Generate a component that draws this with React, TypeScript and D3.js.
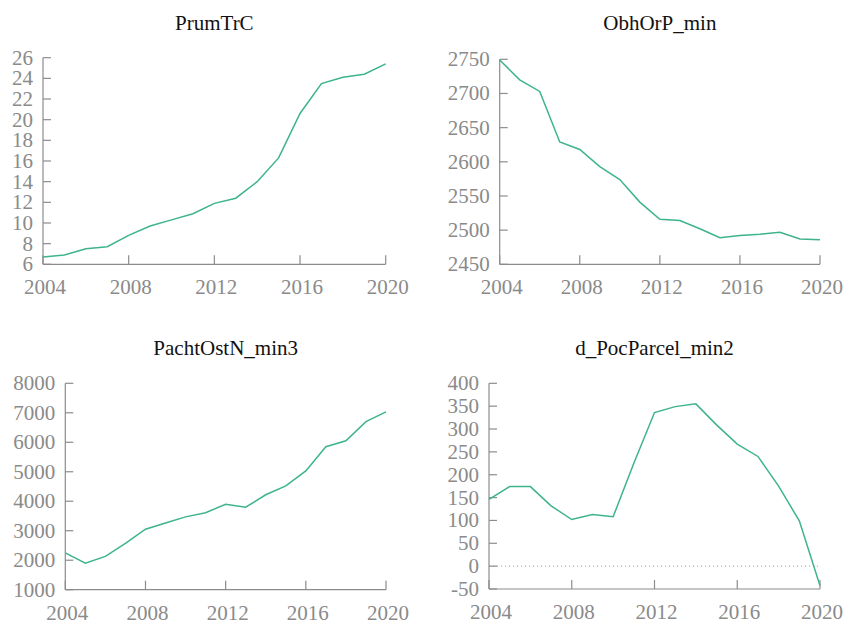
import React from "react";
import * as d3 from "d3";

const years = [2004, 2005, 2006, 2007, 2008, 2009, 2010, 2011, 2012, 2013, 2014, 2015, 2016, 2017, 2018, 2019, 2020];
const xTickYears = [2004, 2008, 2012, 2016, 2020];

const prumTrC = [6.7, 6.9, 7.5, 7.7, 8.8, 9.7, 10.3, 10.9, 11.9, 12.4, 14.0, 16.3, 20.6, 23.5, 24.1, 24.4, 25.4];
const obhOrPMin = [2749, 2720, 2703, 2629, 2618, 2593, 2574, 2541, 2516, 2514, 2502, 2489, 2492, 2494, 2497, 2487, 2486];
const pachtOstNMin3 = [2250, 1900, 2130, 2570, 3050, 3260, 3470, 3610, 3900, 3800, 4220, 4520, 5030, 5850, 6050, 6700, 7030];
const dPocParcelMin2 = [146, 174, 174, 132, 102, 113, 108, 225, 336, 349, 355, 309, 267, 240, 175, 99, -43];

const ticksP1 = [6, 8, 10, 12, 14, 16, 18, 20, 22, 24, 26];
const ticksP2 = [2450, 2500, 2550, 2600, 2650, 2700, 2750];
const ticksP3 = [1000, 2000, 3000, 4000, 5000, 6000, 7000, 8000];
const ticksP4 = [-50, 0, 50, 100, 150, 200, 250, 300, 350, 400];

const titles = ["PrumTrC", "ObhOrP_min", "PachtOstN_min3", "d_PocParcel_min2"];

const LINE = "#3db489";
const AXIS = "#8c8c8c";
const TEXT = "#8a8a8a";
const FONT = "Liberation Serif";

type PanelProps = {
  title: string;
  values: number[];
  ticks: number[];
  x0: number;
  x1: number;
  yTop: number;
  yBot: number;
  titleY: number;
  zeroLine?: boolean;
};

function Panel({ title, values, ticks, x0, x1, yTop, yBot, titleY, zeroLine }: PanelProps) {
  const x = d3.scaleLinear().domain([2004, 2020]).range([x0, x1]);
  const y = d3
    .scaleLinear()
    .domain([ticks[0], ticks[ticks.length - 1]])
    .range([yBot, yTop]);
  const line = d3
    .line<number>()
    .x((_, i) => x(years[i]))
    .y((d) => y(d));
  const tickStyle = { fontFamily: FONT, fontSize: 21, fill: TEXT };
  return (
    <g>
      <text
        x={(x0 + x1) / 2}
        y={titleY}
        textAnchor="middle"
        style={{ fontFamily: FONT, fontSize: 21, fill: "#111" }}
      >
        {title}
      </text>
      {zeroLine && (
        <line
          x1={x0}
          x2={x1 - 2}
          y1={y(0)}
          y2={y(0)}
          stroke="#999"
          strokeWidth={1}
          strokeDasharray="1,3"
        />
      )}
      <line x1={x0} x2={x0} y1={yTop} y2={yBot} stroke={AXIS} strokeWidth={1.2} />
      <line x1={x0} x2={x1} y1={yBot} y2={yBot} stroke={AXIS} strokeWidth={1.2} />
      {ticks.map((t) => (
        <g key={"y" + t}>
          <line x1={x0} x2={x0 + 8} y1={y(t)} y2={y(t)} stroke={AXIS} strokeWidth={1.2} />
          <text x={x0 - 10} y={y(t)} dy="0.33em" textAnchor="end" style={tickStyle}>
            {t}
          </text>
        </g>
      ))}
      {xTickYears.map((yr) => (
        <g key={"x" + yr}>
          <line x1={x(yr)} x2={x(yr)} y1={yBot} y2={yBot - 9} stroke={AXIS} strokeWidth={1.2} />
          <text x={x(yr) + 2} y={yBot + 30} textAnchor="middle" style={tickStyle}>
            {yr}
          </text>
        </g>
      ))}
      <path d={line(values) || ""} fill="none" stroke={LINE} strokeWidth={1.5} />
    </g>
  );
}

export default function App() {
  return (
    <svg
      width={843}
      height={624}
      style={{ position: "absolute", left: 0, top: 0, background: "#fff" }}
    >
      <Panel title={titles[0]} values={prumTrC} ticks={ticksP1} x0={43} x1={385.7} yTop={57.7} yBot={264.3} titleY={30} />
      <Panel title={titles[1]} values={obhOrPMin} ticks={ticksP2} x0={499.7} x1={820} yTop={59.3} yBot={264.3} titleY={30} />
      <Panel title={titles[2]} values={pachtOstNMin3} ticks={ticksP3} x0={65.3} x1={386} yTop={383.3} yBot={589.7} titleY={355} />
      <Panel title={titles[3]} values={dPocParcelMin2} ticks={ticksP4} x0={489} x1={820} yTop={383.3} yBot={589} titleY={355} zeroLine />
    </svg>
  );
}
